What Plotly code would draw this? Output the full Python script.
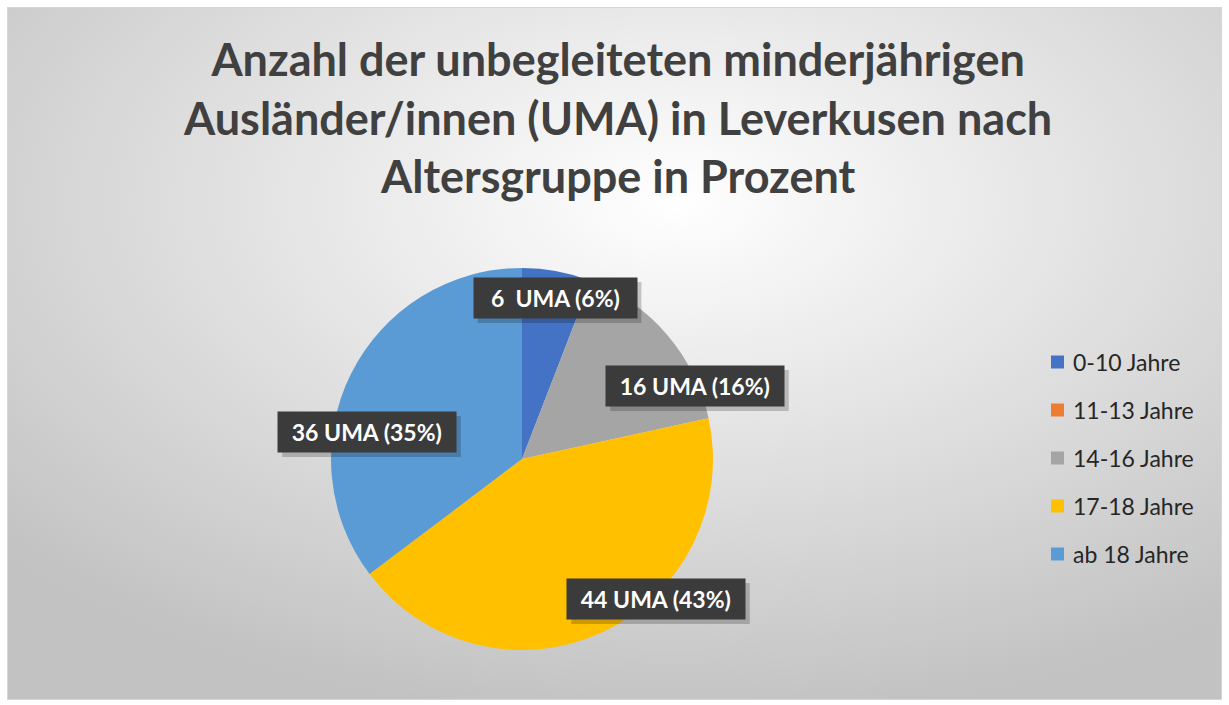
import base64
import plotly.graph_objects as go

categories = ["0-10 Jahre", "11-13 Jahre", "14-16 Jahre", "17-18 Jahre", "ab 18 Jahre"]
values = [6, 0, 16, 44, 36]
colors = ["#4472C4", "#ED7D31", "#A5A5A5", "#FFC000", "#5B9BD5"]
title_lines = ["Anzahl der unbegleiteten minderjährigen",
               "Ausländer/innen (UMA) in Leverkusen nach",
               "Altersgruppe in Prozent"]

W, H = 1229, 705


def px(x):
    return x / W


def py(y):
    return 1 - y / H


total = sum(values)

fig = go.Figure(go.Pie(
    labels=categories, values=values, sort=False, direction="clockwise",
    rotation=0, marker=dict(colors=colors, line=dict(width=0)),
    textinfo="none", hoverinfo="label+value+percent", showlegend=False,
    domain=dict(x=[px(331), px(713)], y=[py(650), py(268)]),
))

# background gradient
svg = ('<svg xmlns="http://www.w3.org/2000/svg" width="1215" height="693" '
       'viewBox="0 0 1215 693" preserveAspectRatio="none">'
       '<defs><radialGradient id="g" cx="55%" cy="28%" r="75%">'
       '<stop offset="0" stop-color="#ffffff"/><stop offset="1" stop-color="#c2c2c2"/>'
       '</radialGradient></defs>'
       '<rect x="0.5" y="0.5" width="1214" height="692" fill="url(#g)" stroke="#d6d6d6"/></svg>')
src = "data:image/svg+xml;base64," + base64.b64encode(svg.encode()).decode()

annotations = []
shapes = []
# title
annotations.append(dict(
    text="<br>".join(title_lines), x=px(618), y=py(117), xref="paper", yref="paper",
    xanchor="center", yanchor="middle", showarrow=False, align="center",
    font=dict(family="Lato", size=45, color="#404040", weight="bold"),
))

# data labels (positions are layout)
label_pos = {0: (555, 298), 2: (695, 386), 3: (656, 599), 4: (367, 432)}
box_h = 40
for i, v in enumerate(values):
    if i not in label_pos:
        continue
    pct = round(v / total * 100)
    sep = "\u00a0\u00a0" if v < 10 else "\u00a0"
    txt = f"{v}{sep}UMA ({pct}%)"
    cx, cy = label_pos[i]
    bw = 14.8 * len(txt)
    # shadow
    shapes.append(dict(type="rect", xref="paper", yref="paper", layer="above",
                       x0=px(cx - bw / 2 + 4), x1=px(cx + bw / 2 + 5),
                       y0=py(cy + box_h / 2 + 5), y1=py(cy - box_h / 2 + 4),
                       fillcolor="rgba(0,0,0,0.2)", line=dict(width=0)))
    annotations.append(dict(
        text=txt, x=px(cx), y=py(cy), xref="paper", yref="paper",
        xanchor="center", yanchor="middle",
        showarrow=False, bgcolor="#3b3b3b", borderpad=0, width=bw, height=box_h,
        font=dict(family="Lato", size=23, color="#ffffff", weight="bold"),
    ))

# custom legend
leg_x, leg_y0, leg_gap, sq = 1051, 362, 48, 13
for i, (cat, col) in enumerate(zip(categories, colors)):
    yc = leg_y0 + i * leg_gap
    shapes.append(dict(type="rect", xref="paper", yref="paper",
                       x0=px(leg_x), x1=px(leg_x + sq), y0=py(yc + sq / 2), y1=py(yc - sq / 2),
                       fillcolor=col, line=dict(width=0)))
    annotations.append(dict(
        text=cat, x=px(leg_x + sq + 7), y=py(yc), xref="paper", yref="paper",
        xanchor="left", yanchor="middle", showarrow=False,
        font=dict(family="Lato", size=23, color="#262626"),
    ))

fig.update_layout(
    width=W, height=H, margin=dict(l=0, r=0, t=0, b=0),
    paper_bgcolor="#ffffff",
    images=[dict(source=src, xref="paper", yref="paper", x=px(7), y=py(7),
                 sizex=1215 / W, sizey=693 / H, sizing="stretch", layer="below",
                 xanchor="left", yanchor="top")],
    annotations=annotations, shapes=shapes,
)

fig.write_html("out.html", config={"displayModeBar": False},
               post_script="document.body.style.margin='0px';document.body.style.overflow='hidden';")
